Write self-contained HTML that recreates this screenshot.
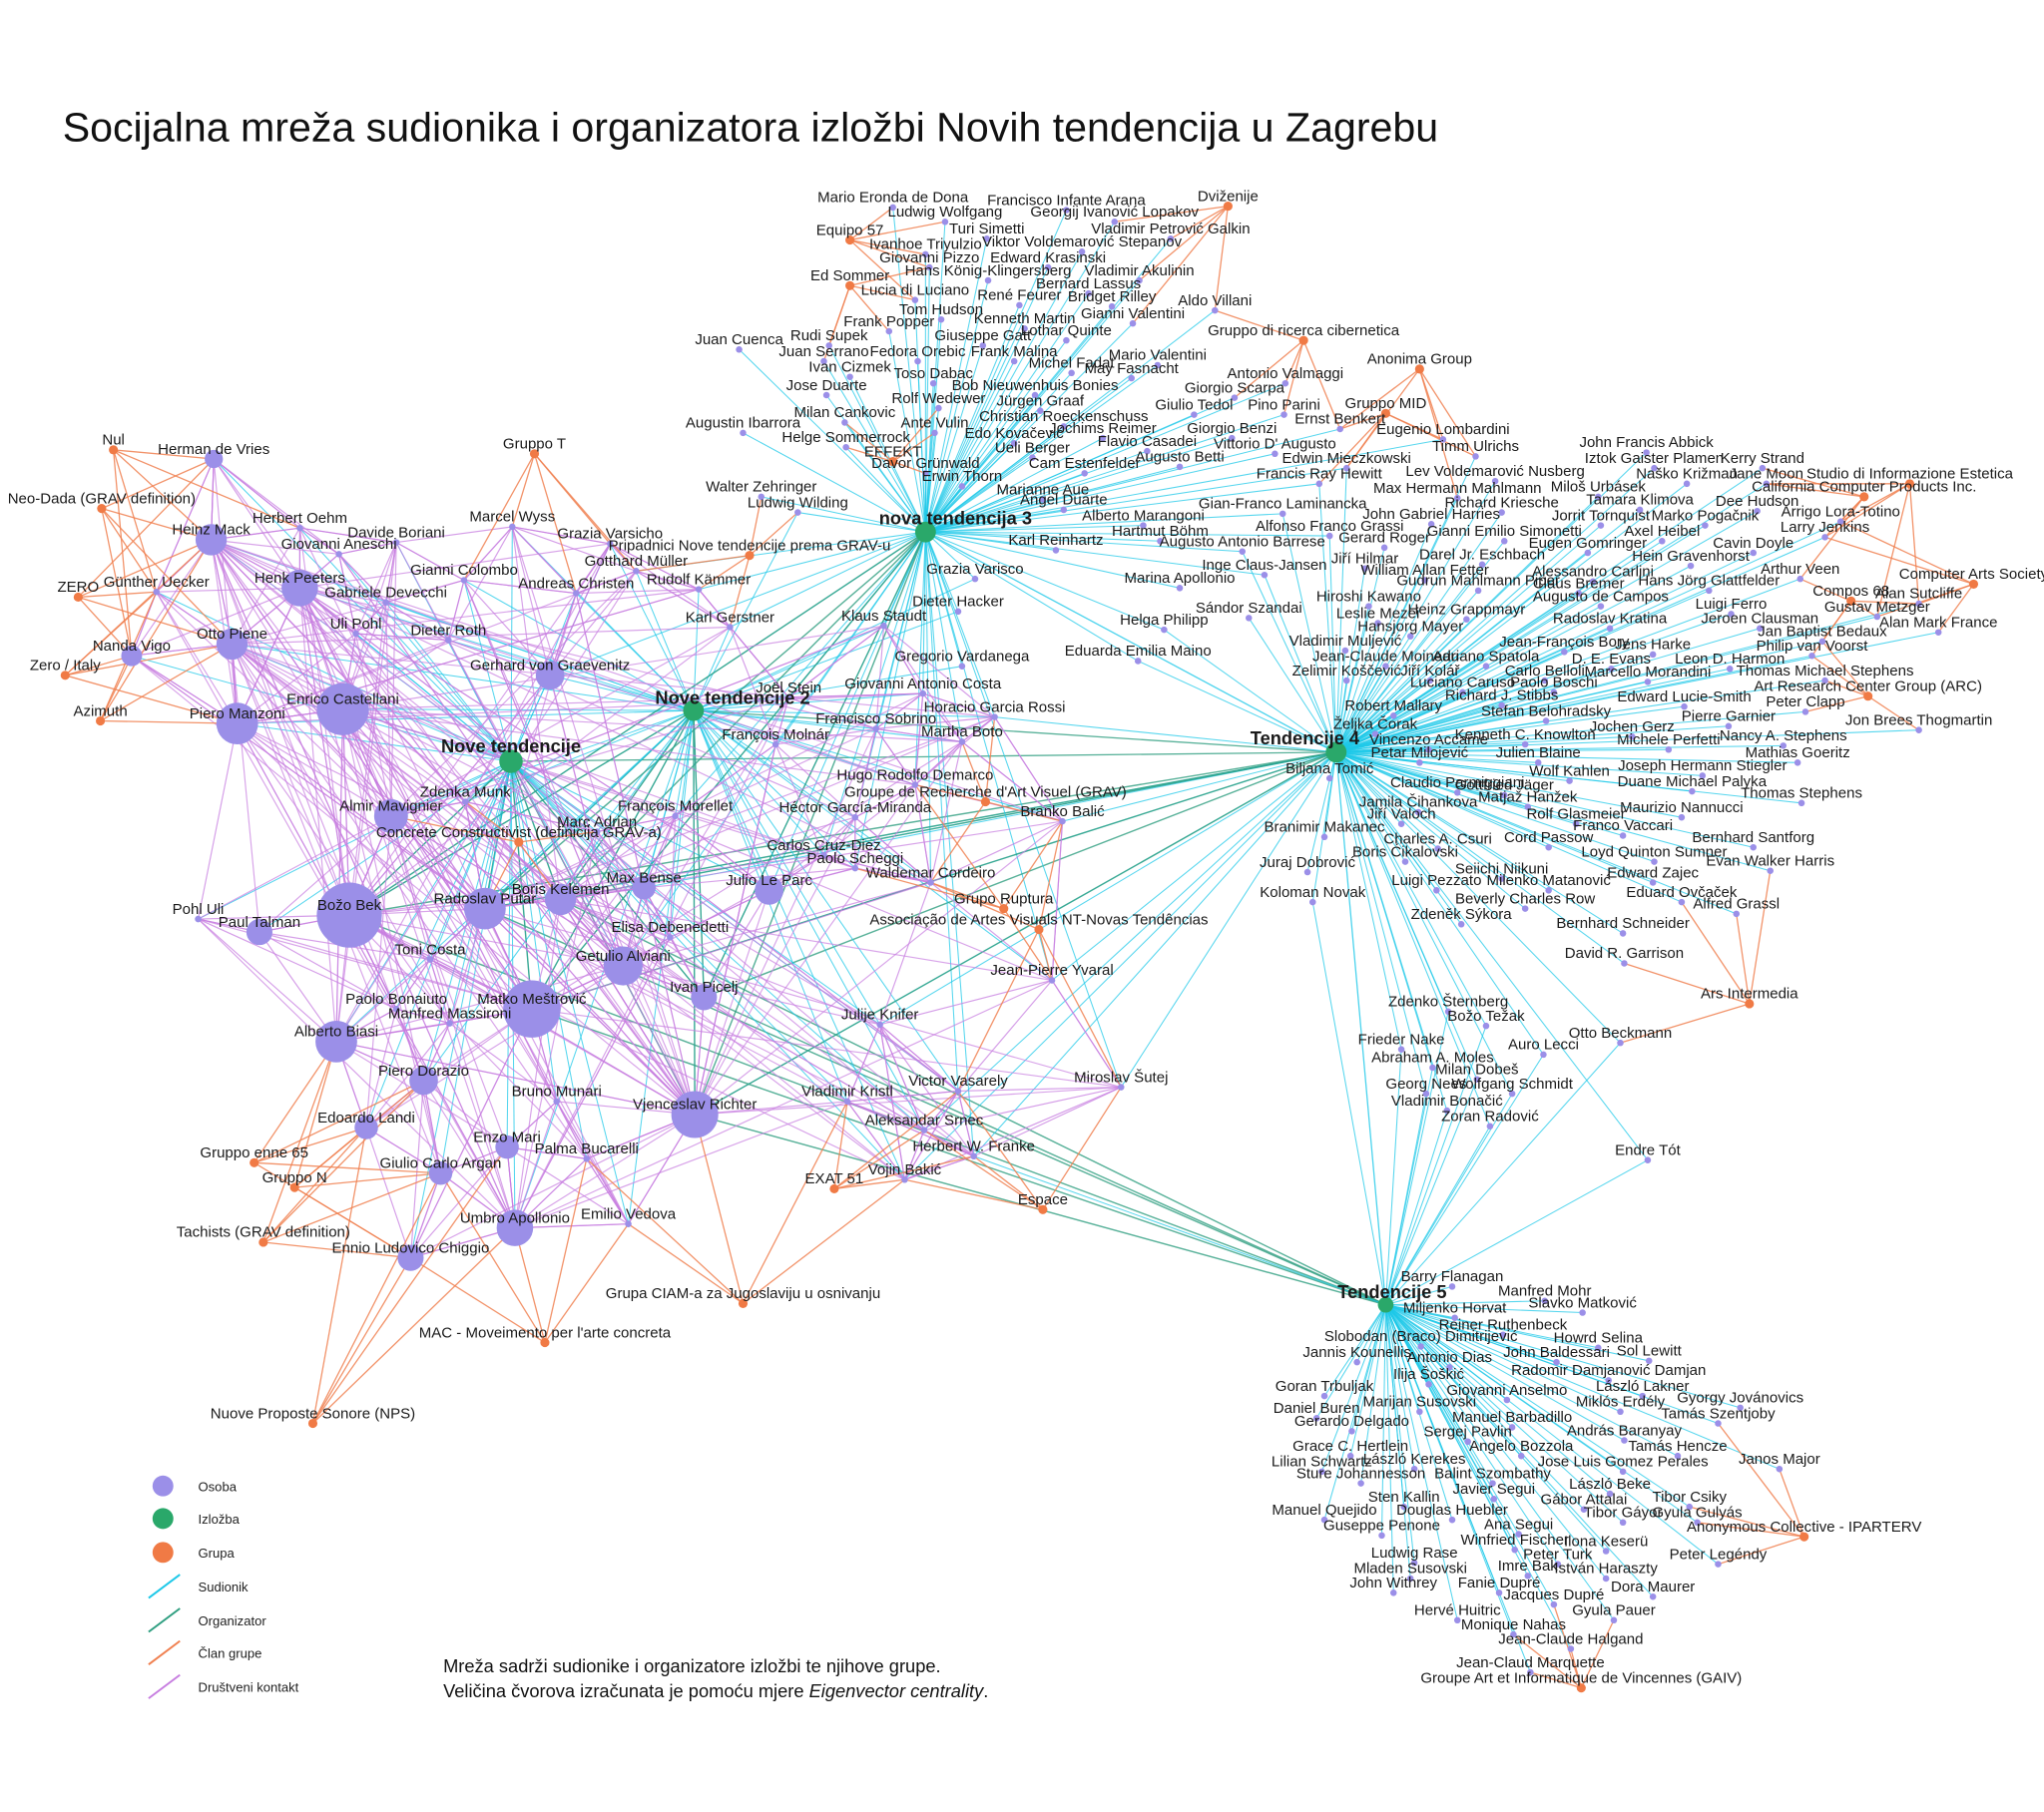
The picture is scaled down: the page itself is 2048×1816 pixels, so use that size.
<!DOCTYPE html>
<html><head><meta charset="utf-8">
<style>
html,body{margin:0;padding:0;background:#fff;}
svg{display:block;}
#L text{font-family:"Liberation Sans",Arial,sans-serif;font-size:11.5px;fill:#1a1a1a;text-anchor:middle;}
#H text{font-family:"Liberation Sans",Arial,sans-serif;font-size:14px;font-weight:bold;fill:#1a1a1a;text-anchor:middle;}
.lg{font-family:"Liberation Sans",Arial,sans-serif;font-size:10px;fill:#222;}
</style></head>
<body>
<svg id="S" width="2048" height="1816" viewBox="0 0 1568 1390" xmlns="http://www.w3.org/2000/svg">
<rect width="1568" height="1390" fill="#fff"/>
<text x="48" y="108" style="font-family:'Liberation Sans',Arial,sans-serif;font-size:31.5px;fill:#111">Socijalna mreža sudionika i organizatora izložbi Novih tendencija u Zagrebu</text>
<g id="E"></g>
<g id="N"></g>
<g id="L">
<text x="685" y="155" class="a">Mario Eronda de Dona</text>
<text x="818" y="157" class="a">Francisco Infante Arana</text>
<text x="942" y="154" class="o">Dviženije</text>
<text x="725" y="166" class="a">Ludwig Wolfgang</text>
<text x="855" y="166" class="a">Georgij Ivanović Lopakov</text>
<text x="757" y="179" class="a">Turi Simetti</text>
<text x="898" y="179" class="a">Vladimir Petrović Galkin</text>
<text x="652" y="180" class="o">Equipo 57</text>
<text x="710" y="191" class="a">Ivanhoe Triyulzio</text>
<text x="830" y="189" class="a">Viktor Voldemarović Stepanov</text>
<text x="713" y="201" class="a">Giovanni Pizzo</text>
<text x="804" y="201" class="a">Edward Krasinski</text>
<text x="758" y="211" class="a">Hans König-Klingersberg</text>
<text x="874" y="211" class="a">Vladimir Akulinin</text>
<text x="652" y="215" class="o">Ed Sommer</text>
<text x="702" y="226" class="a">Lucia di Luciano</text>
<text x="782" y="230" class="a">René Feurer</text>
<text x="835" y="221" class="a">Bernard Lassus</text>
<text x="853" y="231" class="a">Bridget Rilley</text>
<text x="932" y="234" class="a">Aldo Villani</text>
<text x="722" y="241" class="a">Tom Hudson</text>
<text x="786" y="248" class="a">Kenneth Martin</text>
<text x="869" y="244" class="a">Gianni Valentini</text>
<text x="682" y="250" class="a">Frank Popper</text>
<text x="754" y="261" class="a">Giuseppe Gatt</text>
<text x="818" y="257" class="a">Lothar Quinte</text>
<text x="1000" y="257" class="o">Gruppo di ricerca cibernetica</text>
<text x="567" y="264" class="a">Juan Cuenca</text>
<text x="636" y="261" class="a">Rudi Supek</text>
<text x="632" y="273" class="a">Juan Serrano</text>
<text x="704" y="273" class="a">Fedora Orebic</text>
<text x="778" y="273" class="a">Frank Malina</text>
<text x="822" y="282" class="a">Michel Fadat</text>
<text x="888" y="276" class="a">Mario Valentini</text>
<text x="1089" y="279" class="o">Anonima Group</text>
<text x="652" y="285" class="a">Ivan Cizmek</text>
<text x="716" y="290" class="a">Toso Dabac</text>
<text x="868" y="286" class="a">May Fasnacht</text>
<text x="986" y="290" class="a">Antonio Valmaggi</text>
<text x="634" y="299" class="a">Jose Duarte</text>
<text x="794" y="299" class="a">Bob Nieuwenhuis Bonies</text>
<text x="947" y="301" class="a">Giorgio Scarpa</text>
<text x="720" y="309" class="a">Rolf Wedewer</text>
<text x="798" y="311" class="a">Jürgen Graaf</text>
<text x="916" y="314" class="a">Giulio Tedol</text>
<text x="985" y="314" class="a">Pino Parini</text>
<text x="1063" y="313" class="o">Gruppo MID</text>
<text x="570" y="328" class="a">Augustin Ibarrora</text>
<text x="648" y="320" class="a">Milan Cankovic</text>
<text x="717" y="328" class="a">Ante Vulin</text>
<text x="816" y="323" class="a">Christian Roeckenschuss</text>
<text x="1028" y="325" class="a">Ernst Benkert</text>
<text x="846" y="332" class="a">Jochims Reimer</text>
<text x="945" y="332" class="a">Giorgio Benzi</text>
<text x="1107" y="333" class="a">Eugenio Lombardini</text>
<text x="649" y="339" class="a">Helge Sommerrock</text>
<text x="778" y="336" class="a">Edo Kovačević</text>
<text x="880" y="342" class="a">Flavio Casadei</text>
<text x="978" y="344" class="a">Vittorio D' Augusto</text>
<text x="685" y="350" class="o">EFFEKT</text>
<text x="792" y="347" class="a">Ueli Berger</text>
<text x="905" y="354" class="a">Augusto Betti</text>
<text x="1033" y="355" class="a d">Edwin Mieczkowski</text>
<text x="710" y="359" class="a">Davor Grünwald</text>
<text x="832" y="359" class="a">Cam Estenfelder</text>
<text x="738" y="369" class="a">Erwin Thorn</text>
<text x="1012" y="367" class="a d">Francis Ray Hewitt</text>
<text x="584" y="377" class="a">Walter Zehringer</text>
<text x="800" y="379" class="a">Marianne Aue</text>
<text x="816" y="387" class="a">Angel Duarte</text>
<text x="612" y="389" class="a b">Ludwig Wilding</text>
<text x="984" y="390" class="a d">Gian-Franco Laminancka</text>
<text x="877" y="399" class="a">Alberto Marangoni</text>
<text x="890" y="411" class="a">Hartmut Böhm</text>
<text x="1020" y="407" class="a d">Alfonso Franco Grassi</text>
<text x="810" y="418" class="a">Karl Reinhartz</text>
<text x="953" y="419" class="a d">Augusto Antonio Barrese</text>
<text x="748" y="440" class="a b">Grazia Varisco</text>
<text x="970" y="437" class="a d">Inge Claus-Jansen</text>
<text x="905" y="447" class="a">Marina Apollonio</text>
<text x="735" y="465" class="a b">Dieter Hacker</text>
<text x="958" y="470" class="d">Sándor Szandai</text>
<text x="893" y="479" class="a d">Helga Philipp</text>
<text x="873" y="503" class="a d">Eduarda Emilia Maino</text>
<text x="738" y="507" class="a b">Gregorio Vardanega</text>
<text x="1132" y="346" class="d">Timm Ulrichs</text>
<text x="1263" y="343" class="d">John Francis Abbick</text>
<text x="1269" y="355" class="d">Iztok Gaister Plamen</text>
<text x="1352" y="355" class="d">Kerry Strand</text>
<text x="1147" y="365" class="d">Lev Voldemarović Nusberg</text>
<text x="1294" y="367" class="d">Naško Križman</text>
<text x="1355" y="367" class="d">Jane Moon</text>
<text x="1465" y="367" class="o">Studio di Informazione Estetica</text>
<text x="1118" y="378" class="d">Max Hermann Mahlmann</text>
<text x="1226" y="377" class="d">Miloš Urbásek</text>
<text x="1430" y="377" class="o">California Computer Products Inc.</text>
<text x="1152" y="389" class="d">Richard Kriesche</text>
<text x="1258" y="387" class="d">Tamara Klimova</text>
<text x="1348" y="388" class="d">Dee Hudson</text>
<text x="1412" y="396" class="d">Arrigo Lora-Totino</text>
<text x="1098" y="398" class="d">John Gabriel Harries</text>
<text x="1228" y="399" class="d">Jorrit Tornquist</text>
<text x="1308" y="399" class="d">Marko Pogačnik</text>
<text x="1400" y="408" class="d">Larry Jenkins</text>
<text x="1154" y="411" class="d">Gianni Emilio Simonetti</text>
<text x="1275" y="411" class="d">Axel Heibel</text>
<text x="1062" y="416" class="d">Gerard Roger</text>
<text x="1218" y="420" class="d">Eugen Gomringer</text>
<text x="1345" y="420" class="d">Cavin Doyle</text>
<text x="1047" y="432" class="d">Jiří Hilmar</text>
<text x="1137" y="429" class="d">Darel Jr. Eschbach</text>
<text x="1297" y="430" class="d">Hein Gravenhorst</text>
<text x="1093" y="441" class="d">William Allan Fetter</text>
<text x="1222" y="442" class="d">Alessandro Carlini</text>
<text x="1381" y="440" class="d">Arthur Veen</text>
<text x="1514" y="444" class="o">Computer Arts Society</text>
<text x="1134" y="449" class="d">Gudrun Mahlmann Piper</text>
<text x="1211" y="451" class="d">Claus Bremer</text>
<text x="1311" y="449" class="d">Hans Jörg Glattfelder</text>
<text x="1420" y="457" class="o">Compos 68</text>
<text x="1472" y="459" class="d">Alan Sutcliffe</text>
<text x="1050" y="461" class="d">Hiroshi Kawano</text>
<text x="1228" y="461" class="d">Augusto de Campos</text>
<text x="1328" y="467" class="d">Luigi Ferro</text>
<text x="1440" y="469" class="d">Gustav Metzger</text>
<text x="1125" y="471" class="d">Heinz Grappmayr</text>
<text x="1235" y="478" class="d">Radoslav Kratina</text>
<text x="1350" y="478" class="d">Jeroen Clausman</text>
<text x="1487" y="481" class="d">Alan Mark France</text>
<text x="1057" y="474" class="d">Leslie Mezei</text>
<text x="1082" y="484" class="d">Hansjorg Mayer</text>
<text x="1200" y="496" class="d">Jean-François Bory</text>
<text x="1268" y="498" class="d">Jens Harke</text>
<text x="1398" y="488" class="d">Jan Baptist Bedaux</text>
<text x="1032" y="495" class="d">Vladimir Muljević</text>
<text x="1140" y="507" class="d">Adriano Spatola</text>
<text x="1327" y="509" class="d">Leon D. Harmon</text>
<text x="1390" y="499" class="d">Philip van Voorst</text>
<text x="1063" y="507" class="d">Jean-Claude Moineau</text>
<text x="1236" y="509" class="d">D. E. Evans</text>
<text x="1033" y="518" class="d">Zelimir Koščević</text>
<text x="1097" y="518" class="d">Jiří Kolář</text>
<text x="1185" y="518" class="d">Carlo Belloli</text>
<text x="1264" y="519" class="d">Marcello Morandini</text>
<text x="1400" y="518" class="d">Thomas Michael Stephens</text>
<text x="1122" y="527" class="d">Luciano Caruso</text>
<text x="1192" y="527" class="d">Paolo Boschi</text>
<text x="1433" y="530" class="o">Art Research Center Group (ARC)</text>
<text x="1069" y="545" class="d">Robert Mallary</text>
<text x="1152" y="537" class="d">Richard J. Stibbs</text>
<text x="1292" y="538" class="d">Edward Lucie-Smith</text>
<text x="1385" y="542" class="d">Peter Clapp</text>
<text x="1186" y="549" class="d">Stefan Belohradsky</text>
<text x="1055" y="559" class="d">Željka Čorak</text>
<text x="1326" y="553" class="d">Pierre Garnier</text>
<text x="1096" y="571" class="d">Vincenzo Accame</text>
<text x="1170" y="567" class="d">Kenneth C. Knowlton</text>
<text x="1252" y="561" class="d">Jochen Gerz</text>
<text x="1472" y="556" class="d">Jon Brees Thogmartin</text>
<text x="1280" y="571" class="d">Michele Perfetti</text>
<text x="1368" y="568" class="d">Nancy A. Stephens</text>
<text x="1089" y="581" class="d">Petar Milojević</text>
<text x="1180" y="581" class="d">Julien Blaine</text>
<text x="1379" y="581" class="d">Mathias Goeritz</text>
<text x="1020" y="593" class="d">Biljana Tomić</text>
<text x="1204" y="595" class="d">Wolf Kahlen</text>
<text x="1306" y="591" class="d">Joseph Hermann Stiegler</text>
<text x="1118" y="604" class="d">Claudio Parmiggiani</text>
<text x="1298" y="603" class="d">Duane Michael Palyka</text>
<text x="1154" y="606" class="d">Gottfried Jäger</text>
<text x="1088" y="619" class="d">Jamila Čihankova</text>
<text x="1172" y="615" class="d">Matjaž Hanžek</text>
<text x="1382" y="612" class="d">Thomas Stephens</text>
<text x="1075" y="628" class="d">Jiří Valoch</text>
<text x="1209" y="628" class="d">Rolf Glasmeier</text>
<text x="1290" y="623" class="d">Maurizio Nannucci</text>
<text x="1016" y="638" class="d">Branimir Makanec</text>
<text x="1245" y="637" class="d">Franco Vaccari</text>
<text x="1103" y="647" class="d">Charles A. Csuri</text>
<text x="1188" y="646" class="d">Cord Passow</text>
<text x="1345" y="646" class="d">Bernhard Santforg</text>
<text x="1078" y="657" class="d">Boris Ćikalovski</text>
<text x="1269" y="657" class="d">Loyd Quinton Sumner</text>
<text x="1003" y="665" class="d">Juraj Dobrović</text>
<text x="1152" y="670" class="d">Seiichi Niikuni</text>
<text x="1358" y="664" class="d">Evan Walker Harris</text>
<text x="1268" y="673" class="d">Edward Zajec</text>
<text x="1102" y="679" class="d">Luigi Pezzato</text>
<text x="1188" y="679" class="d">Milenko Matanović</text>
<text x="1007" y="688" class="d e">Koloman Novak</text>
<text x="1290" y="688" class="d">Eduard Ovčaček</text>
<text x="1170" y="693" class="d">Beverly Charles Row</text>
<text x="1332" y="697" class="d">Alfred Grassl</text>
<text x="1121" y="705" class="d">Zdeněk Sýkora</text>
<text x="1245" y="712" class="d">Bernhard Schneider</text>
<text x="1246" y="735" class="d">David R. Garrison</text>
<text x="1342" y="766" class="o">Ars Intermedia</text>
<text x="1111" y="772" class="d e">Zdenko Šternberg</text>
<text x="1140" y="783" class="d e">Božo Težak</text>
<text x="1243" y="796" class="d e">Otto Beckmann</text>
<text x="1075" y="801" class="d e">Frieder Nake</text>
<text x="1184" y="805" class="d e">Auro Lecci</text>
<text x="1099" y="815" class="d e">Abraham A. Moles</text>
<text x="1133" y="824" class="d e">Milan Dobeš</text>
<text x="1094" y="835" class="d e">Georg Nees</text>
<text x="1160" y="835" class="d e">Wolfgang Schmidt</text>
<text x="1110" y="848" class="d e">Vladimir Bonačić</text>
<text x="1143" y="860" class="d e">Zoran Radović</text>
<text x="1264" y="886" class="d e">Endre Tót</text>
<text x="1114" y="983" class="e">Barry Flanagan</text>
<text x="1185" y="994" class="e">Manfred Mohr</text>
<text x="1116" y="1007" class="e">Miljenko Horvat</text>
<text x="1214" y="1003" class="e">Slavko Matković</text>
<text x="1153" y="1020" class="e">Reiner Ruthenbeck</text>
<text x="1090" y="1029" class="e">Slobodan (Braco) Dimitrijević</text>
<text x="1226" y="1030" class="e">Howrd Selina</text>
<text x="1041" y="1041" class="e">Jannis Kounellis</text>
<text x="1112" y="1045" class="e">Antonio Dias</text>
<text x="1194" y="1041" class="e">John Baldessari</text>
<text x="1265" y="1040" class="e">Sol Lewitt</text>
<text x="1096" y="1058" class="e">Ilija Šoškić</text>
<text x="1234" y="1055" class="e">Radomir Damjanović Damjan</text>
<text x="1016" y="1067" class="e">Goran Trbuljak</text>
<text x="1156" y="1070" class="e">Giovanni Anselmo</text>
<text x="1260" y="1067" class="e">László Lakner</text>
<text x="1089" y="1079" class="e">Marijan Susovski</text>
<text x="1243" y="1079" class="e">Miklós Erdély</text>
<text x="1335" y="1076" class="e">Gyorgy Jovánovics</text>
<text x="1010" y="1084" class="e">Daniel Buren</text>
<text x="1318" y="1088" class="e">Tamás Szentjoby</text>
<text x="1037" y="1094" class="e">Gerardo Delgado</text>
<text x="1160" y="1091" class="e">Manuel Barbadillo</text>
<text x="1126" y="1102" class="e">Sergej Pavlin</text>
<text x="1246" y="1101" class="e">András Baranyay</text>
<text x="1036" y="1113" class="e">Grace C. Hertlein</text>
<text x="1167" y="1113" class="e">Angelo Bozzola</text>
<text x="1287" y="1113" class="e">Tamás Hencze</text>
<text x="1014" y="1125" class="e">Lilian Schwartz</text>
<text x="1085" y="1123" class="e">László Kerekes</text>
<text x="1245" y="1125" class="e">Jose Luis Gomez Perales</text>
<text x="1365" y="1123" class="e">Janos Major</text>
<text x="1044" y="1134" class="e">Sture Johannesson</text>
<text x="1145" y="1134" class="e">Balint Szombathy</text>
<text x="1235" y="1142" class="e">László Beke</text>
<text x="1077" y="1152" class="e">Sten Kallin</text>
<text x="1146" y="1146" class="e">Javier Segui</text>
<text x="1215" y="1154" class="e">Gábor Attalai</text>
<text x="1296" y="1152" class="e">Tibor Csiky</text>
<text x="1016" y="1162" class="e">Manuel Quejido</text>
<text x="1114" y="1162" class="e">Douglas Huebler</text>
<text x="1245" y="1164" class="e">Tibor Gáyor</text>
<text x="1302" y="1164" class="e">Gyula Gulyás</text>
<text x="1060" y="1174" class="e">Guseppe Penone</text>
<text x="1165" y="1173" class="e">Ana Segui</text>
<text x="1384" y="1175" class="o">Anonymous Collective - IPARTERV</text>
<text x="1162" y="1185" class="e">Winfried Fischer</text>
<text x="1232" y="1186" class="e">Ilona Keserü</text>
<text x="1085" y="1195" class="e">Ludwig Rase</text>
<text x="1195" y="1196" class="e">Peter Turk</text>
<text x="1318" y="1196" class="e">Peter Legéndy</text>
<text x="1082" y="1207" class="e">Mladen Susovski</text>
<text x="1172" y="1205" class="e">Imre Bak</text>
<text x="1232" y="1207" class="e">István Haraszty</text>
<text x="1069" y="1218" class="e">John Withrey</text>
<text x="1150" y="1218" class="e">Fanie Dupré</text>
<text x="1268" y="1221" class="e">Dora Maurer</text>
<text x="1192" y="1227" class="e">Jacques Dupré</text>
<text x="1118" y="1239" class="e">Hervé Huitric</text>
<text x="1238" y="1239" class="e">Gyula Pauer</text>
<text x="1161" y="1250" class="e">Monique Nahas</text>
<text x="1205" y="1261" class="e">Jean-Claude Halgand</text>
<text x="1174" y="1279" class="e">Jean-Claud Marquette</text>
<text x="1213" y="1291" class="o">Groupe Art et Informatique de Vincennes (GAIV)</text>
<text x="164" y="348" class="p r7 c">Herman de Vries</text>
<text x="87" y="341" class="o">Nul</text>
<text x="78" y="386" class="o">Neo-Dada (GRAV definition)</text>
<text x="230" y="401" class="p c">Herbert Oehm</text>
<text x="162" y="410" class="p r12 c b">Heinz Mack</text>
<text x="304" y="412" class="p c">Davide Boriani</text>
<text x="260" y="421" class="p c">Giovanni Aneschi</text>
<text x="410" y="344" class="o">Gruppo T</text>
<text x="393" y="400" class="p c b">Marcel Wyss</text>
<text x="468" y="413" class="p c b">Grazia Varsicho</text>
<text x="356" y="441" class="p c b">Gianni Colombo</text>
<text x="442" y="451" class="p c b">Andreas Christen</text>
<text x="488" y="434" class="p b a">Gotthard Müller</text>
<text x="536" y="448" class="p b a">Rudolf Kämmer</text>
<text x="575" y="422" class="o">Pripadnici Nove tendencije prema GRAV-u</text>
<text x="60" y="454" class="o">ZERO</text>
<text x="120" y="450" class="p c">Günther Uecker</text>
<text x="230" y="447" class="p r14 c b">Henk Peeters</text>
<text x="296" y="458" class="p c b">Gabriele Devecchi</text>
<text x="273" y="482" class="p c">Uli Pohl</text>
<text x="344" y="487" class="p c b">Dieter Roth</text>
<text x="560" y="477" class="p b a">Karl Gerstner</text>
<text x="678" y="476" class="p b a">Klaus Staudt</text>
<text x="178" y="490" class="p r12 c b">Otto Piene</text>
<text x="101" y="499" class="p r8 c">Nanda Vigo</text>
<text x="50" y="514" class="o">Zero / Italy</text>
<text x="422" y="514" class="p r11 c b a">Gerhard von Graevenitz</text>
<text x="605" y="531" class="p b a">Joël Stein</text>
<text x="708" y="528" class="p b a">Giovanni Antonio Costa</text>
<text x="263" y="540" class="p r20 c b">Enrico Castellani</text>
<text x="77" y="549" class="o">Azimuth</text>
<text x="182" y="551" class="p r16 c b">Piero Manzoni</text>
<text x="763" y="546" class="p b a d">Horacio Garcia Rossi</text>
<text x="672" y="555" class="p b a">Francisco Sobrino</text>
<text x="595" y="567" class="p b a">François Molnár</text>
<text x="738" y="565" class="p b a">Martha Boto</text>
<text x="702" y="598" class="p b a">Hugo Rodolfo Demarco</text>
<text x="357" y="611" class="p c b">Zdenka Munk</text>
<text x="756" y="611" class="o">Groupe de Recherche d'Art Visuel (GRAV)</text>
<text x="518" y="622" class="p b a">François Morellet</text>
<text x="300" y="622" class="p r13 c b">Almir Mavignier</text>
<text x="656" y="623" class="p b a">Héctor García-Miranda</text>
<text x="815" y="626" class="p b d">Branko Balić</text>
<text x="458" y="634" class="p b c">Marc Adrian</text>
<text x="398" y="642" class="o">Concrete Constructivist (definicija GRAV-a)</text>
<text x="632" y="652" class="p b a">Carlos Cruz-Diez</text>
<text x="656" y="662" class="p b a">Paolo Scheggi</text>
<text x="714" y="673" class="p b a">Waldemar Cordeiro</text>
<text x="494" y="677" class="p r9 b c d">Max Bense</text>
<text x="590" y="679" class="p r11 b a c">Julio Le Parc</text>
<text x="430" y="686" class="p r12 g b c d">Boris Kelemen</text>
<text x="770" y="693" class="o">Grupo Ruptura</text>
<text x="152" y="701" class="p c">Pohl Uli</text>
<text x="268" y="698" class="p r25 g c b a">Božo Bek</text>
<text x="372" y="693" class="p r16 g b c d">Radoslav Putar</text>
<text x="797" y="709" class="o">Associação de Artes Visuals NT-Novas Tendências</text>
<text x="199" y="711" class="p r10 c">Paul Talman</text>
<text x="514" y="715" class="p b c">Elisa Debenedetti</text>
<text x="330" y="732" class="p c b">Toni Costa</text>
<text x="478" y="737" class="p r15 b c a">Getulio Alviani</text>
<text x="807" y="748" class="p b a d">Jean-Pierre Yvaral</text>
<text x="540" y="761" class="p r10 g b c a">Ivan Picelj</text>
<text x="304" y="770" class="p c">Paolo Bonaiuto</text>
<text x="408" y="770" class="p r22 g b c d a">Matko Meštrović</text>
<text x="345" y="781" class="p c">Manfred Massironi</text>
<text x="675" y="782" class="p b c d">Julije Knifer</text>
<text x="258" y="795" class="p r16 c b">Alberto Biasi</text>
<text x="325" y="825" class="p r11 c b">Piero Dorazio</text>
<text x="860" y="830" class="p a d">Miroslav Šutej</text>
<text x="735" y="833" class="p b c a">Victor Vasarely</text>
<text x="427" y="841" class="p c">Bruno Munari</text>
<text x="650" y="841" class="p b c">Vladimir Kristl</text>
<text x="533" y="851" class="p r18 g b c d">Vjenceslav Richter</text>
<text x="281" y="861" class="p r9 c">Edoardo Landi</text>
<text x="709" y="863" class="p b c d">Aleksandar Srnec</text>
<text x="389" y="876" class="p r9 c">Enzo Mari</text>
<text x="450" y="885" class="p c">Palma Bucarelli</text>
<text x="747" y="883" class="p a d e">Herbert W. Franke</text>
<text x="195" y="888" class="o">Gruppo enne 65</text>
<text x="338" y="896" class="p r9 c">Giulio Carlo Argan</text>
<text x="694" y="901" class="p b c d">Vojin Bakić</text>
<text x="640" y="908" class="o">EXAT 51</text>
<text x="226" y="907" class="o">Gruppo N</text>
<text x="800" y="924" class="o">Espace</text>
<text x="395" y="938" class="p r14 b c">Umbro Apollonio</text>
<text x="482" y="935" class="p b c">Emilio Vedova</text>
<text x="202" y="949" class="o">Tachists (GRAV definition)</text>
<text x="315" y="961" class="p r10 c">Ennio Ludovico Chiggio</text>
<text x="570" y="996" class="o">Grupa CIAM-a za Jugoslaviju u osnivanju</text>
<text x="418" y="1026" class="o">MAC - Moveimento per l'arte concreta</text>
<text x="240" y="1088" class="o">Nuove Proposte Sonore (NPS)</text>
</g>
<g id="H">
<circle cx="710" cy="408" r="8" fill="#2aa86a"/><circle cx="532" cy="545" r="8" fill="#2aa86a"/>
<circle cx="392" cy="584" r="9" fill="#2aa86a"/><circle cx="1025" cy="577" r="8" fill="#2aa86a"/>
<circle cx="1063" cy="1001" r="6" fill="#2aa86a"/>
<text x="733" y="402">nova tendencija 3</text>
<text x="562" y="540">Nove tendencije 2</text>
<text x="392" y="577">Nove tendencije</text>
<text x="1001" y="571">Tendencije 4</text>
<text x="1068" y="996">Tendencije 5</text>
</g>
<g>
<circle cx="125" cy="1140" r="8" fill="#9b8fe8"/><text class="lg" x="152" y="1144">Osoba</text>
<circle cx="125" cy="1165" r="8" fill="#2aa86a"/><text class="lg" x="152" y="1169">Izložba</text>
<circle cx="125" cy="1191" r="8" fill="#f07a45"/><text class="lg" x="152" y="1195">Grupa</text>
<line x1="114" y1="1226" x2="138" y2="1208" stroke="#1ec8e8" stroke-width="1.5"/><text class="lg" x="152" y="1221">Sudionik</text>
<line x1="114" y1="1252" x2="138" y2="1234" stroke="#2e9e80" stroke-width="1.5"/><text class="lg" x="152" y="1247">Organizator</text>
<line x1="114" y1="1277" x2="138" y2="1259" stroke="#f08050" stroke-width="1.5"/><text class="lg" x="152" y="1272">Član grupe</text>
<line x1="114" y1="1303" x2="138" y2="1285" stroke="#c77ee0" stroke-width="1.5"/><text class="lg" x="152" y="1298">Društveni kontakt</text>
<text x="340" y="1283" style="font-family:'Liberation Sans',Arial,sans-serif;font-size:14px;fill:#111">Mreža sadrži sudionike i organizatore izložbi te njihove grupe.</text>
<text x="340" y="1302" style="font-family:'Liberation Sans',Arial,sans-serif;font-size:14px;fill:#111">Veličina čvorova izračunata je pomoću mjere <tspan font-style="italic">Eigenvector centrality</tspan>.</text>
</g>
</svg>
<script>
(function(){
var NS="http://www.w3.org/2000/svg";
var hubs={a:[710,408],b:[532,545],c:[392,584],d:[1025,577],e:[1063,1001]};
var E=document.getElementById('E'),N=document.getElementById('N');
var seed=7;function rnd(){seed=(seed*16807)%2147483647;return seed/2147483647;}
function line(x1,y1,x2,y2,col,w,op){var l=document.createElementNS(NS,'line');l.setAttribute('x1',x1);l.setAttribute('y1',y1);l.setAttribute('x2',x2);l.setAttribute('y2',y2);l.setAttribute('stroke',col);l.setAttribute('stroke-width',w);l.setAttribute('stroke-opacity',op);E.appendChild(l);}
var ts=document.querySelectorAll('#L text'),nodes=[];
for(var i=0;i<ts.length;i++){var t=ts[i],c=t.getAttribute('class')||'',cl=c.split(' ');var r=2.5;
cl.forEach(function(k){if(/^r\d+$/.test(k))r=+k.slice(1);});
nodes.push({x:+t.getAttribute('x'),y:+t.getAttribute('y')+4,r:r,cl:cl,o:cl.indexOf('o')>=0,p:cl.indexOf('p')>=0});}
line(710,408,1025,577,'#1ec8e8',1,.8);line(532,545,1025,577,'#2e9e80',1,.8);line(392,584,1025,577,'#2e9e80',1,.8);line(1025,577,1063,1001,'#1ec8e8',1,.8);
nodes.forEach(function(n){
 'abcde'.split('').forEach(function(h){if(n.cl.indexOf(h)>=0){var H=hubs[h];line(n.x,n.y,H[0],H[1],'#1ec8e8',0.8,0.75);}});
 if(n.cl.indexOf('g')>=0){['a','b','c','d','e'].forEach(function(h){var H=hubs[h];line(n.x,n.y,H[0],H[1],'#2e9e80',1.1,0.8);});}
});
var P=nodes.filter(function(n){return n.p;}),big=P.filter(function(n){return n.r>=12;});
P.forEach(function(n){
 var s=P.filter(function(m){return m!==n;}).sort(function(a,b){return (a.x-n.x)*(a.x-n.x)+(a.y-n.y)*(a.y-n.y)-((b.x-n.x)*(b.x-n.x)+(b.y-n.y)*(b.y-n.y));});
 for(var k=0;k<5;k++)line(n.x,n.y,s[k].x,s[k].y,'#c77ee0',0.9,0.75);
 var nb=n.r>=12?6:3;for(k=0;k<nb;k++){var m=big[Math.floor(rnd()*big.length)];if(m!==n)line(n.x,n.y,m.x,m.y,'#c77ee0',0.9,0.7);}
});
var NO=nodes.filter(function(n){return !n.o;});
nodes.forEach(function(n){if(!n.o)return;
 var s=NO.slice().sort(function(a,b){return (a.x-n.x)*(a.x-n.x)+(a.y-n.y)*(a.y-n.y)-((b.x-n.x)*(b.x-n.x)+(b.y-n.y)*(b.y-n.y));});
 for(var k=0;k<5;k++)line(n.x,n.y,s[k].x,s[k].y,'#f08050',1,0.85);
});
nodes.forEach(function(n){var c=document.createElementNS(NS,'circle');c.setAttribute('cx',n.x);c.setAttribute('cy',n.y);c.setAttribute('r',n.o?3.5:n.r);c.setAttribute('fill',n.o?'#f07a45':'#9b8fe8');N.appendChild(c);});
})();
</script>
</body></html>
